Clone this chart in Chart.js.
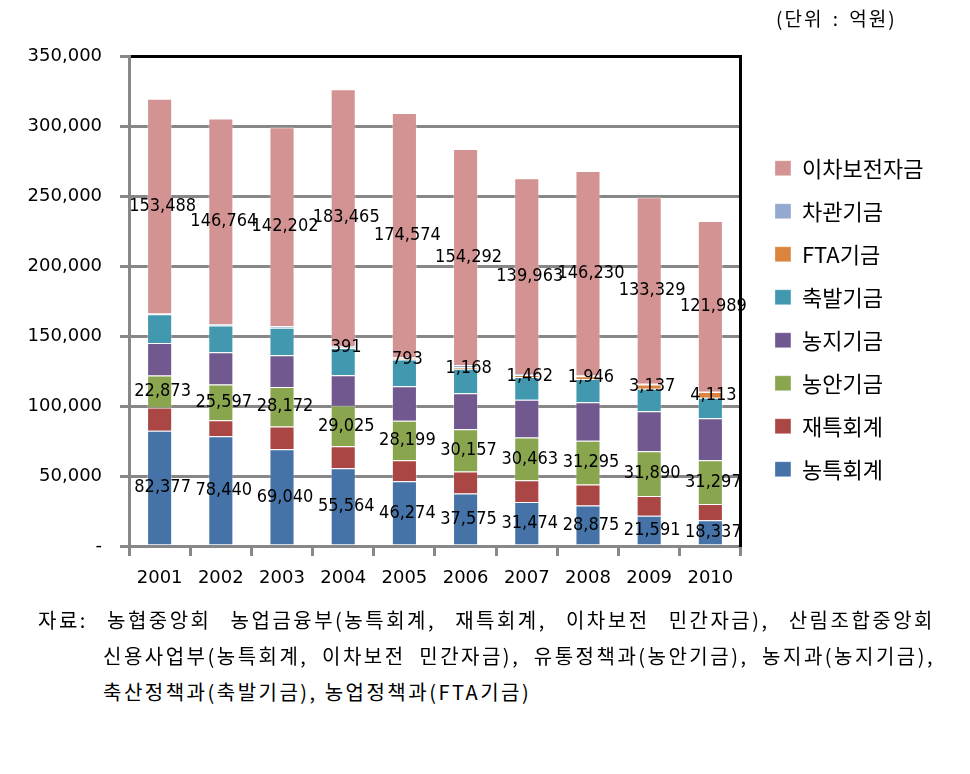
<!DOCTYPE html>
<html><head><meta charset="utf-8">
<script src="https://cdn.jsdelivr.net/npm/chart.js@4"></script>
<style>
html,body{margin:0;padding:0;background:#fff;}
body{width:970px;height:774px;position:relative;overflow:hidden;font-family:'Noto Sans CJK KR',sans-serif;color:#000;}
#wrap{position:absolute;left:0;top:0;width:970px;height:612px;}
.unit{position:absolute;left:776px;top:5px;font-size:19px;letter-spacing:2px;word-spacing:3px;line-height:26px;white-space:pre;}
.src{position:absolute;font-size:20px;line-height:36px;white-space:nowrap;letter-spacing:2.5px;}
.j{text-align:justify;text-align-last:justify;white-space:normal;}
</style></head><body>
<div id="wrap"><canvas id="c"></canvas></div>
<div class="unit">(단위 : 억원)</div>
<div class="src j" style="left:38px;top:602px;width:897px;">자료: 농협중앙회 농업금융부(농특회계, 재특회계, 이차보전 민간자금), 산림조합중앙회</div>
<div class="src j" style="left:103px;top:638px;width:832px;">신용사업부(농특회계, 이차보전 민간자금), 유통정책과(농안기금), 농지과(농지기금),</div>
<div class="src" style="left:103px;top:674px;">축산정책과(축발기금), 농업정책과(FTA기금)</div>
<script>
const years = ['2001','2002','2003','2004','2005','2006','2007','2008','2009','2010'];
const nongTeukHoegye = [82377, 78440, 69040, 55564, 46274, 37575, 31474, 28875, 21591, 18337];
const jaeTeukHoegye  = [16600, 11300, 16300, 15600, 15000, 15600, 15500, 15000, 14200, 11700];
const nongAnGigeum   = [22873, 25597, 28172, 29025, 28199, 30157, 30463, 31295, 31890, 31297];
const nongJiGigeum   = [23150, 23100, 22800, 21700, 24700, 25700, 27100, 27500, 28500, 30000];
const chukBalGigeum  = [20500, 19000, 19600, 19500, 19100, 17500, 16200, 16700, 16100, 14500];
const ftaGigeum      = [0, 0, 0, 391, 793, 1168, 1462, 1946, 3137, 4113];
const chagwanGigeum  = [500, 1200, 1000, 1000, 700, 1500, 600, 400, 400, 200];
const ichaBojeon     = [153488, 146764, 142202, 183465, 174574, 154292, 139963, 146230, 133329, 121989];

const seriesNames  = ['농특회계','재특회계','농안기금','농지기금','축발기금','FTA기금','차관기금','이차보전자금'];
const seriesValues = [nongTeukHoegye, jaeTeukHoegye, nongAnGigeum, nongJiGigeum, chukBalGigeum, ftaGigeum, chagwanGigeum, ichaBojeon];
const seriesColors = ['#4572A7','#AA4643','#89A54E','#71588F','#4198AF','#DB843D','#93A9CF','#D39392'];
const labeledSeries = ['농특회계','농안기금','FTA기금','이차보전자금'];

const yTickValues = [0, 50000, 100000, 150000, 200000, 250000, 300000, 350000];
const yTickLabels = ['-', '50,000', '100,000', '150,000', '200,000', '250,000', '300,000', '350,000'];

const valueLabels = {
  id: 'valueLabels',
  afterDatasetsDraw(chart) {
    const ctx = chart.ctx;
    ctx.save();
    ctx.font = "18px 'DejaVu Sans Condensed', 'Liberation Sans', sans-serif";
    ctx.fillStyle = '#000';
    ctx.textAlign = 'center';
    ctx.textBaseline = 'middle';
    chart.data.datasets.forEach((ds, i) => {
      if (!labeledSeries.includes(ds.label)) return;
      chart.getDatasetMeta(i).data.forEach((el, j) => {
        const v = ds.data[j];
        if (!v) return;
        const p = el.getCenterPoint();
        ctx.fillText(v.toLocaleString('en-US'), p.x + 3, p.y);
      });
    });
    ctx.restore();
  }
};

new Chart(document.getElementById('c'), {
  type: 'bar',
  data: {
    labels: years,
    datasets: seriesNames.map((name, i) => ({
      label: name,
      data: seriesValues[i],
      backgroundColor: seriesColors[i],
      borderColor: 'rgba(255,255,255,0.35)',
      borderWidth: 1,
      barPercentage: 0.41,
      categoryPercentage: 1.0
    }))
  },
  options: {
    responsive: true,
    maintainAspectRatio: false,
    animation: false,
    layout: { padding: { left: 9.6, right: 36.6, top: 56, bottom: 10.4 } },
    plugins: {
      legend: {
        position: 'right',
        align: 'start',
        reverse: true,
        maxWidth: 400,
        title: { display: true, text: '', padding: { top: 79, bottom: 0 }, font: { size: 1 } },
        labels: {
          boxWidth: 16, boxHeight: 15, padding: 21, color: '#000',
          font: { family: "'Noto Sans CJK KR', sans-serif", size: 22 }
        }
      },
      tooltip: { enabled: false }
    },
    scales: {
      x: {
        stacked: true,
        grid: { display: true, drawOnChartArea: false, drawTicks: true, tickLength: 10, color: '#878787', lineWidth: 3, offset: true },
        border: { color: '#878787', width: 3 },
        ticks: { color: '#000', font: { family: "'DejaVu Sans', sans-serif", size: 18 }, padding: 12 }
      },
      y: {
        stacked: true,
        min: 0, max: 350000,
        ticks: {
          stepSize: 50000, color: '#000', padding: 18,
          font: { family: "'DejaVu Sans', sans-serif", size: 18 },
          callback: (v) => yTickLabels[yTickValues.indexOf(v)]
        },
        grid: {
          color: (c) => (c.tick && c.tick.value === 350000) ? '#000' : '#878787',
          tickColor: '#878787', lineWidth: 3, tickLength: 9
        },
        border: { color: '#878787', width: 3 }
      },
      y2: {
        position: 'right',
        display: true,
        grid: { display: false, drawTicks: false },
        ticks: { display: false },
        border: { display: true, color: '#000', width: 3 },
        afterFit(s) { s.width = 13; }
      }
    }
  },
  plugins: [valueLabels]
});
</script>
</body></html>
